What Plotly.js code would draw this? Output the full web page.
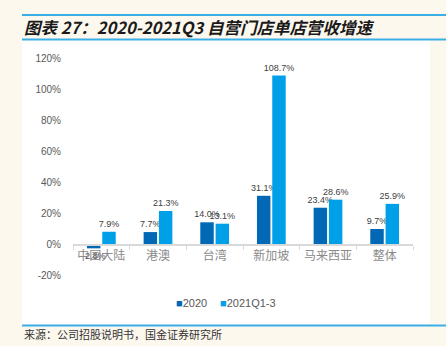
<!DOCTYPE html>
<html><head><meta charset="utf-8">
<script src="https://cdn.plot.ly/plotly-3.0.1.min.js"></script>
<style>html,body{margin:0;padding:0;background:#fdf8ee;}</style>
</head><body>
<div id="chart" style="width:446px;height:346px;"></div>
<script>
const categories = ["中国大陆", "港澳", "台湾", "新加坡", "马来西亚", "整体"];
const series2020 = [-2.8, 7.7, 14.0, 31.1, 23.4, 9.7];
const series2021 = [7.9, 21.3, 13.1, 108.7, 28.6, 25.9];
const seriesNames = ["2020", "2021Q1-3"];
const seriesColors = ["#0068b5", "#00a0e9"];
const yTickVals = [-20, 0, 20, 40, 60, 80, 100, 120];
const yTickText = ["-20%", "0%", "20%", "40%", "60%", "80%", "100%", "120%"];

const fmt = v => v.toFixed(1) + "%";
const labelFont = {family: "Liberation Sans, Arial, sans-serif", size: 9, color: "#404040"};

const traces = [
  {type: "bar", name: seriesNames[0], x: categories, y: series2020,
   marker: {color: seriesColors[0]}, text: series2020.map(fmt), textposition: "outside",
   textfont: labelFont, cliponaxis: false, constraintext: "none", showlegend: false},
  {type: "bar", name: seriesNames[1], x: categories, y: series2021,
   marker: {color: seriesColors[1]}, text: series2021.map(fmt), textposition: "outside",
   textfont: labelFont, cliponaxis: false, constraintext: "none", showlegend: false}
];

const legFont = {family: "Liberation Sans, Arial, sans-serif", size: 11, color: "#595959"};
const legendAnn = seriesNames.map((n, i) => ({
  xref: "paper", yref: "paper", x: [0.298, 0.425][i], y: -0.129, xanchor: "left", yanchor: "middle",
  showarrow: false, font: legFont,
  text: "<span style='color:" + seriesColors[i] + ";font-size:11px'>■</span>" + n
}));

const layout = {
  width: 446, height: 346,
  margin: {l: 73, r: 33, t: 58, b: 71, pad: 0},
  paper_bgcolor: "#fdf8ee", plot_bgcolor: "rgba(0,0,0,0)",
  barmode: "group", bargap: 0.46, bargroupgap: 0.12,
  showlegend: false,
  xaxis: {anchor: "free", position: 20/140, showline: true, linecolor: "#d9d9d9", linewidth: 1.5,
    ticks: "outside", tickson: "boundaries", ticklen: 4, tickcolor: "#d9d9d9", tickangle: 0,
    showgrid: false, zeroline: false,
    tickfont: {family: "Noto Sans CJK SC, sans-serif", size: 12, color: "#8a8a8a"}},
  yaxis: {range: [-20, 120], tickvals: yTickVals, ticktext: yTickText, showgrid: false,
    zeroline: false, showline: false, ticks: "", ticklabelstandoff: 11,
    tickfont: {family: "Liberation Sans, Arial, sans-serif", size: 10, color: "#595959"}},
  shapes: [
    {type: "rect", xref: "paper", yref: "paper", x0: -0.15, x1: 1.05, y0: -0.230, y1: 1.083,
     fillcolor: "#ffffff", line: {width: 0}, layer: "below"},
    {type: "line", xref: "paper", yref: "paper", x0: -0.15, x1: 1.21, y0: 1.198, y1: 1.198,
     line: {color: "#3aaee6", width: 2}},
    {type: "line", xref: "paper", yref: "paper", x0: -0.15, x1: 1.21, y0: 1.085, y1: 1.085,
     line: {color: "#3aaee6", width: 2}},
    {type: "line", xref: "paper", yref: "paper", x0: -0.15, x1: 1.21, y0: -0.233, y1: -0.233,
     line: {color: "#3aaee6", width: 2}}
  ],
  annotations: [
    {xref: "paper", yref: "paper", x: -0.15, y: 1.145, xanchor: "left", yanchor: "middle",
     showarrow: false, text: "<b><i>图表 27：2020-2021Q3 自营门店单店营收增速</i></b>",
     font: {family: "Noto Sans CJK SC, sans-serif", size: 16.5, color: "#1a1a1a"}},
    {xref: "paper", yref: "paper", x: -0.15, y: -0.272, xanchor: "left", yanchor: "middle",
     showarrow: false, text: "来源：公司招股说明书，国金证券研究所",
     font: {family: "Noto Sans CJK SC, sans-serif", size: 11, color: "#333333"}}
  ].concat(legendAnn)
};

Plotly.newPlot("chart", traces, layout, {displayModeBar: false, staticPlot: true});
</script>
</body></html>
